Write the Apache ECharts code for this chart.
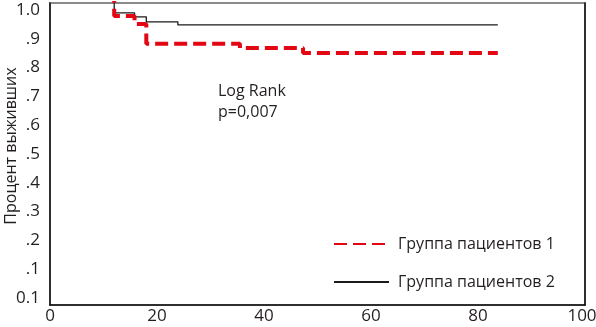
<!DOCTYPE html>
<html>
<head>
<meta charset="utf-8">
<script src="https://cdn.jsdelivr.net/npm/echarts@6/dist/echarts.min.js"></script>
<style>
  html, body { margin: 0; padding: 0; background: #fff; }
  #chart { width: 596px; height: 327px; }
</style>
</head>
<body>
<div id="chart"></div>
<script>
// Kaplan-Meier curves, values
const group1Time = [0, 12, 15.8, 18, 35.5, 47.3, 83.7];
const group1Surv = [1.0, 0.938, 0.912, 0.848, 0.834, 0.818, 0.818];
const group2Time = [0, 12, 15.8, 18, 23.9, 83.7];
const group2Surv = [1.0, 0.948, 0.935, 0.919, 0.909, 0.909];

const seriesNames = ['Группа пациентов 1', 'Группа пациентов 2'];
const xTicks = [0, 20, 40, 60, 80, 100];
const yTickLabels = ['0.1', '.1', '.2', '.3', '.4', '.5', '.6', '.7', '.8', '.9', '1.0'];
const yTickValues = yTickLabels.map((_, i) => i / 10);
const annotation = ['Log Rank', 'p=0,007'];

const font = '"Open Sans", "Noto Sans", sans-serif';
const textColor = '#231f20';
const red = '#e30613';
const black = '#1a1a1a';

const chart = echarts.init(document.getElementById('chart'));

const toPoints = (xs, ys) => xs.map((x, i) => [x, ys[i]]);

const option = {
  animation: false,
  backgroundColor: '#fff',
  textStyle: { fontFamily: font, color: textColor },
  grid: {
    left: 50,
    right: 11,
    top: 3,
    bottom: 22,
    outerBoundsMode: 'none',
    containLabel: false,
    show: true,
    borderColor: '#8a8a8a',
    borderWidth: 2
  },
  legend: {
    orient: 'vertical',
    left: 333,
    top: 236,
    padding: 0,
    itemWidth: 55,
    itemHeight: 14,
    itemGap: 22,
    itemStyle: { opacity: 0 },
    textStyle: { fontFamily: font, fontSize: 16, color: textColor, padding: [0, 0, 0, 4] },
    data: seriesNames
  },
  graphic: [
    {
      type: 'text',
      left: 218,
      top: 81,
      style: {
        text: annotation.join('\n'),
        font: '16px ' + font,
        lineHeight: 21,
        fill: textColor
      }
    }
  ],
  xAxis: {
    type: 'value',
    min: xTicks[0],
    max: xTicks[xTicks.length - 1],
    interval: xTicks[1] - xTicks[0],
    axisLine: { show: true, onZero: false, lineStyle: { color: '#111', width: 1.5 } },
    axisTick: { show: false },
    splitLine: { show: false },
    axisLabel: {
      fontSize: 17,
      color: textColor,
      fontFamily: font,
      margin: 3,
      formatter: v => (v === xTicks[xTicks.length - 1] ? '{last|' + v + '}' : String(v)),
      rich: {
        last: { fontSize: 17, color: textColor, fontFamily: font, padding: [0, 6, 0, 0] }
      }
    }
  },
  yAxis: [
    {
      // data axis
      type: 'value',
      min: 0,
      max: 0.98,
      position: 'left',
      axisLine: { show: false },
      axisTick: { show: false },
      axisLabel: { show: false },
      splitLine: { show: false }
    },
    {
      // labelled axis
      type: 'value',
      min: -0.0243,
      max: 1.0243,
      position: 'left',
      name: 'Процент выживших',
      nameLocation: 'middle',
      nameGap: 31,
      nameMoveOverlap: false,
      nameTextStyle: { fontSize: 16, color: textColor, fontFamily: font, padding: [0, 0, 0, 16] },
      axisLine: { show: true, onZero: false, lineStyle: { color: '#111', width: 1.5 } },
      axisTick: { show: false },
      splitLine: { show: false },
      axisLabel: {
        customValues: yTickValues,
        fontSize: 17,
        color: textColor,
        fontFamily: font,
        margin: 10,
        formatter: v => yTickLabels[Math.round(v * 10)]
      }
    },
    {
      type: 'value',
      min: 0,
      max: 1,
      position: 'right',
      axisLine: { show: true, onZero: false, lineStyle: { color: '#111', width: 1.5 } },
      axisTick: { show: false },
      axisLabel: { show: false },
      splitLine: { show: false }
    }
  ],
  series: [
    {
      name: seriesNames[0],
      type: 'line',
      step: 'end',
      yAxisIndex: 0,
      symbol: 'none',
      lineStyle: { color: red, width: 4, type: [13, 6] },
      itemStyle: { color: red },
      data: toPoints(group1Time, group1Surv),
      z: 4
    },
    {
      name: seriesNames[1],
      type: 'line',
      step: 'end',
      yAxisIndex: 0,
      symbol: 'none',
      lineStyle: { color: black, width: 1.3 },
      itemStyle: { color: black },
      data: toPoints(group2Time, group2Surv),
      z: 3
    }
  ]
};

chart.setOption(option);
window.addEventListener('resize', () => chart.resize());
</script>
</body>
</html>
